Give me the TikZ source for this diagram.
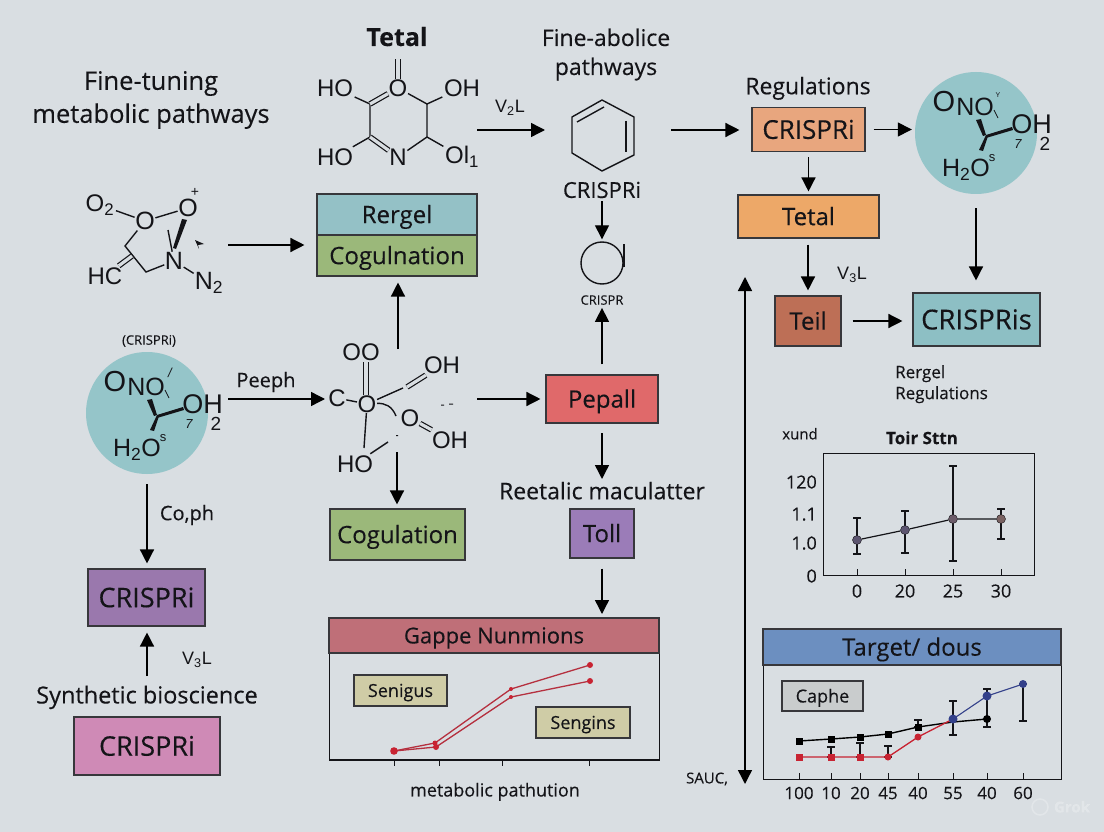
\documentclass[tikz,border=0pt]{standalone}
\usepackage{fontspec}
\setmainfont{Open Sans}[FakeBold=0.25]
\newfontfamily\chemf{Liberation Sans}
\usetikzlibrary{arrows.meta,calc}
\definecolor{bg}{RGB}{217,222,226}
\definecolor{ink}{RGB}{20,20,24}
\definecolor{teal}{RGB}{148,193,198}
\definecolor{leaf}{RGB}{155,184,122}
\definecolor{circ}{RGB}{149,197,201}
\definecolor{rosered}{RGB}{224,105,106}
\definecolor{purp}{RGB}{155,124,184}
\definecolor{purpb}{RGB}{154,120,173}
\definecolor{pink}{RGB}{207,138,182}
\definecolor{peach}{RGB}{232,166,126}
\definecolor{orng}{RGB}{237,168,104}
\definecolor{brick}{RGB}{189,111,86}
\definecolor{tealb}{RGB}{141,191,196}
\definecolor{hdred}{RGB}{191,111,120}
\definecolor{hdblue}{RGB}{108,143,192}
\definecolor{khaki}{RGB}{207,204,166}
\definecolor{greyb}{RGB}{201,204,205}
\definecolor{lred}{RGB}{181,48,63}
\definecolor{sred}{RGB}{200,35,50}
\definecolor{nblue}{RGB}{51,64,138}
\definecolor{dotp}{RGB}{93,85,112}
\tikzset{
  x=1pt,y=-1pt,
  mfs/.style={font=\fontsize{#1pt}{#1pt}\selectfont},
  fs/.style={font=\fontsize{#1pt}{#1pt}\selectfont,text height=0.72*#1pt,text depth=0pt},
  bfs/.style={font=\bfseries\fontsize{#1pt}{#1pt}\selectfont,text height=0.72*#1pt,text depth=0pt},
  txt/.style={text=ink,inner sep=0pt,align=center},
  atom/.style={text=ink,inner sep=1.5pt,font=\chemf\fontsize{#1pt}{#1pt}\selectfont},
  tiny glyph/.style={text=ink,inner sep=0pt,font=\chemf\fontsize{#1pt}{#1pt}\selectfont,text height=0.7*#1pt,text depth=0pt},
  bond/.style={draw=ink,line width=1.4pt},
  dbl/.style={draw=ink,line width=1.2pt,double=bg,double distance=3.2pt},
  arr/.style={draw=black,line width=1.4pt,-{Triangle[length=14pt,width=14pt]}},
  boxn/.style={draw=ink!85,line width=1.1pt,inner sep=0pt,text=ink},
  panel/.style={draw=ink,line width=1pt},
  err/.style={draw=ink,line width=1.2pt},
}
% round molecule: centre x, y, prefix, small top glyph
\newcommand\circmol[4]{%
\begin{scope}[shift={(#1,#2)}]
  \node[circle,fill=circ,minimum size=122pt,inner sep=0pt] (#3disc) at (0,0) {};
  \node[tiny glyph=29] (#3a) at (-32,-32) {O};
  \node[tiny glyph=25] (#3b) at (-1,-26) {NO};
  \node[tiny glyph=27] (#3c) at (55.5,-9) {OH};
  \node[tiny glyph=19] (#3two) at (69,10.5) {2};
  \node[tiny glyph=25] (#3d) at (-10,35) {H\textsubscript{2}O};
  \node[tiny glyph=13] (#3s) at (16,24) {s};
  \node[tiny glyph=13] (#3n) at (42,11) {\itshape 7};
  \node[tiny glyph=13] (#3g) at (22,-40) {#4};
  \coordinate (#3k) at (10,2);
  \fill[ink] (#3k) -- (5,-14) -- (0,-13) -- (7,3) -- cycle;
  \fill[ink] (#3k) -- (36,-6) -- (37,-3) -- (10,5) -- cycle;
  \fill[ink] (#3k) -- (3,17) -- (7,18) -- (12,3) -- cycle;
  \draw[ink,line width=.8pt] (18,-23) -- (22,-15);
\end{scope}}
\begin{document}
\begin{tikzpicture}
\useasboundingbox (0,0) rectangle (1104,832);
\fill[bg] (0,0) rectangle (1104,832);

% titles
\node[txt,mfs=25.5] (title) at (151,100) {Fine-tuning\\[7.5pt]metabolic pathways};
\node[txt,bfs=25] (tetalh) at (397,37) {Tetal};
\node[txt,mfs=23] (fineab) at (606,54.5) {Fine-abolice\\[6pt]pathways};
\node[txt,fs=23] (regh) at (808,86) {Regulations};

% top molecule
\node[atom=24] (mho1) at (335,88) {HO};
\node[atom=24,inner sep=0.5pt] (mo) at (398,88) {O};
\node[atom=24] (moh) at (462,88) {OH};
\node[atom=24] (mho2) at (335,157) {HO};
\node[atom=24,inner sep=0.5pt] (mn) at (398,157) {N};
\node[atom=24] (mol) at (462,157) {Ol\textsubscript{1}};
\coordinate (mc1) at (370,104);
\coordinate (mc2) at (370,137);
\coordinate (mc3) at (427,104);
\coordinate (mc4) at (427,137);
\coordinate (mtop) at (398,59);
\draw[dbl,double distance=4pt] (mo) -- (mtop);
\draw[bond] (mho1) -- (mc1) -- (mc2) -- (mho2);
\draw[dbl] (mc1) -- (mo);
\draw[bond] (mo) -- (mc3) -- (moh);
\draw[bond] (mc3) -- (mc4) -- (mol);
\draw[dbl] (mc2) -- (mn);
\draw[bond] (mn) -- (mc4);

% second molecule
\node[atom=24] (po2) at (100,205) {O\textsubscript{2}};
\node[atom=25,inner sep=0.5pt] (po) at (145,221) {O};
\node[atom=25,inner sep=0.5pt] (pop) at (188,208) {O};
\node[atom=14,inner sep=0pt] (pplus) at (195,192) {+};
\node[atom=25,inner sep=0.5pt] (pn) at (174,261) {N};
\node[atom=25,inner sep=1pt] (pn2) at (209,283) {N\textsubscript{2}};
\node[atom=24] (phc) at (105,276) {HC};
\coordinate (pc1) at (125,246);
\coordinate (pc2) at (146,272);
\coordinate (pm) at (132,256);
\coordinate (pw) at (168,230);
\draw[bond] (po2) -- (po);
\draw[bond] (po) -- (pop);
\draw[bond] (po) -- (pc1) -- (pc2) -- (pn);
\draw[dbl] (pm) -- (phc);
\draw[bond] (pn) -- (pn2);
\draw[bond] (pw) -- (pn);
\fill[ink] (182,219) -- (187,220) -- (176,249) -- (173,248) -- cycle;
\fill[ink] (195,240) -- (204,244) -- (198,245) -- (199,249) -- cycle;

% stack
\node[boxn,fill=teal,fs=24,minimum width=160pt,minimum height=41pt] (rergel) at (397,214.5) {Rergel};
\node[boxn,fill=leaf,fs=24,minimum width=160pt,minimum height=41pt] (cognl) at (397,255.5) {Cogulnation};
\coordinate (s1) at (228,245);
\draw[arr,shorten >=12pt] (s1) -- (cognl.west |- s1);

% circle molecule left
\node[txt,fs=13] (lblcr) at (149,340) {(CRISPRi)};
\circmol{147}{413}{l}{\itshape\rlap{\kern-1pt/}}
\node[txt,fs=20] (peeph) at (266,380) {Peeph};

% central molecule
\node[atom=24,inner sep=0.5pt] (cc) at (337,398) {C};
\node[atom=24,inner sep=0.5pt] (co) at (367,404) {O};
\node[atom=24] (coo) at (361,352) {OO};
\node[atom=24] (coh1) at (442,365) {OH};
\node[atom=24,inner sep=0.5pt] (co2) at (410,418) {O};
\node[atom=24] (coh2) at (450,440) {OH};
\node[atom=24] (cho) at (355,464) {HO};
\coordinate (cj) at (403,388);
\coordinate (cd1) at (366,363);
\coordinate (cd2) at (365,390);
\coordinate (cl) at (373,455);
\coordinate (clx) at (388,442);
\draw[bond] (cc) -- (co);
\draw[dbl] (coo.south -| cd1) -- (co.north -| cd1);
\draw[bond] (co) -- (cj);
\draw[dbl] (407,387) -- (coh1);
\draw[bond] (co) .. controls (385,403) and (392,406) .. (396,416);
\draw[bond] (co) -- (364,448);
\draw[bond] (cho) -- (clx);
\draw[dbl] (co2) -- (coh2);
\fill[ink] (441,404.5) rectangle (444,405.5) (449,403.5) rectangle (453,404.5) (396,435) rectangle (398,436);

% arrows around centre
\coordinate (ctop) at (398,349);
\draw[arr,shorten >=6pt] (ctop) -- (cognl.south -| ctop);
\coordinate (pa) at (228,399);
\coordinate (pb) at (325,399);
\draw[arr] (pa) -- (pb);
\coordinate (cdn) at (397,452);
\node[boxn,fill=leaf,fs=24,minimum width=135pt,minimum height=51pt] (cogbox) at (397.5,534.5) {Cogulation};
\draw[arr,shorten >=4pt] (cdn) -- (cogbox.north -| cdn);
\node[boxn,fill=rosered,fs=24,minimum width=112pt,minimum height=48pt] (pepall) at (602,399) {Pepall};
\coordinate (cr) at (477,399);
\draw[arr,shorten >=5pt] (cr) -- (pepall.west);

% hexagon
\coordinate (h1) at (602,100);
\coordinate (h2) at (634,117);
\coordinate (h3) at (634,155);
\coordinate (h4) at (602,171);
\coordinate (h5) at (572,153);
\coordinate (h6) at (572,117);
\draw[bond,line join=round] (h1) -- (h2) -- (h3) -- (h4) -- (h5) -- (h6) -- cycle;
\draw[bond] (577,122) -- (604,107);
\draw[bond] (626,121) -- (626,152);
\node[txt,fs=22] (hcr) at (602,190) {CRISPRi};
\node[draw=ink,line width=1.4pt,circle,minimum size=42pt,inner sep=0pt] (ring) at (602,263) {};
\draw[bond] (624,244) -- (624,267);
\node[txt,fs=13] (crsp) at (602,300) {CRISPR};
\draw[arr,shorten <=3pt,shorten >=2pt] (hcr) -- (ring);
\draw[arr,shorten <=10pt,shorten >=3pt] (pepall) -- (crsp);

\coordinate (ma) at (477,130);
\coordinate (mb) at (545,130);
\draw[arr] (ma) -- (mb);
\node[atom=18,inner sep=0pt] (v2l) at (510,108) {V\textsubscript{2}L};

% right column
\node[boxn,fill=peach,fs=26,minimum width=113pt,minimum height=44pt] (crb) at (808.5,129.5) {CRISPRi};
\coordinate (ra) at (671,130);
\draw[arr,shorten >=12pt] (ra) -- (crb.west |- ra);
\circmol{976}{133}{r}{\scriptsize Y}
\draw[arr,shorten <=8pt,shorten >=3pt] (crb.east) -- (rdisc.west |- crb.east);
\node[boxn,fill=orng,fs=24,minimum width=141pt,minimum height=43pt] (tetalb) at (808.5,216.5) {Tetal};
\draw[arr,shorten <=5pt,shorten >=3pt] (crb) -- (tetalb);
\node[boxn,fill=brick,fs=24,minimum width=66pt,minimum height=50pt] (teil) at (808,321) {Teil};
\draw[arr,shorten <=6pt,shorten >=5pt] (tetalb.south -| teil) -- (teil);
\node[atom=18,inner sep=0pt] (v3r) at (852,275) {V\textsubscript{3}L};
\node[boxn,fill=tealb,fs=27.5,minimum width=127pt,minimum height=53pt] (crs) at (976.5,319.5) {CRISPRis};
\draw[arr,shorten <=11pt,shorten >=10pt] (teil.east) -- (crs.west |- teil.east);
\draw[arr,shorten <=14pt,shorten >=12pt] (rdisc.south) -- (crs.north -| rdisc.south);
\node[txt,mfs=17,align=left,anchor=north west] (rr) at (895,365) {Rergel\\[4pt]Regulations};

% double-headed axis
\coordinate (dtop) at (745,277);
\coordinate (dbot) at (745,784);
\draw[draw=black,line width=1.4pt,{Triangle[length=14pt,width=14pt]}-{Triangle[length=14pt,width=14pt]}] (dtop) -- (dbot);
\node[txt,fs=15] (sauc) at (707,778) {SAUC,};

% chart 1
\node[txt,fs=15] (xund) at (800,434) {xund};
\node[txt,bfs=17] (toir) at (922,438) {Toir Sttn};
\draw[panel] (823,453) rectangle (1034,575);
\foreach \n/\t/\y in {ya/120/482,yb/1.1/514,yc/1.0/543,yd/0/576}
  \node[txt,fs=18,anchor=east] (\n) at (817,\y) {\t};
\foreach \n/\t/\x in {xa/0/857,xb/20/905,xc/25/953,xd/30/1001}{
  \node[txt,fs=18] (\n) at (\x,591) {\t};
  \draw[panel] (\x,575) -- (\x,569);}
\foreach \x/\a/\b in {857/518/554,905/511/553,953/466/561,1001/509/539}{
  \draw[err] (\x,\a) -- (\x,\b);
  \draw[err] (\x-4,\a) -- (\x+4,\a);
  \draw[err] (\x-4,\b) -- (\x+4,\b);}
\node[circle,draw=ink,fill=dotp,minimum size=9pt,inner sep=0pt] (p1) at (857,540) {};
\node[circle,draw=ink,fill=dotp,minimum size=9pt,inner sep=0pt] (p2) at (905,530) {};
\node[circle,draw=ink,fill=dotp!85!brown,minimum size=9pt,inner sep=0pt] (p3) at (953,519) {};
\node[circle,draw=ink,fill=dotp!70!brown,minimum size=9pt,inner sep=0pt] (p4) at (1001,519) {};
\draw[err] (p1) -- (p2) -- (p3) -- (p4);

% left column
\coordinate (l1) at (147,484);
\node[boxn,fill=purpb,fs=27,minimum width=117pt,minimum height=57pt] (cr1) at (146.5,597.5) {CRISPRi};
\draw[arr,shorten >=5pt] (l1) -- (cr1.north -| l1);
\node[txt,fs=20] (coph) at (187,513) {Co,ph};
\node[atom=18,inner sep=0pt] (v3l) at (197,660) {V\textsubscript{3}L};
\node[txt,fs=23.5] (synth) at (147,695) {Synthetic bioscience};
\node[boxn,fill=pink,fs=27,minimum width=146pt,minimum height=58pt] (cr2) at (147,746) {CRISPRi};
\coordinate (l2) at (147,676);
\draw[arr,shorten >=6pt] (l2) -- (cr1.south -| l2);

% middle lower
\node[txt,fs=23] (reet) at (602,491) {Reetalic maculatter};
\node[boxn,fill=purp,fs=24,minimum width=64pt,minimum height=49pt] (toll) at (602,533.5) {Toll};
\coordinate (tdn) at (602,479);
\coordinate (pd) at (602,433);
\draw[arr] (pd) -- (tdn);
\coordinate (td2) at (602,614);
\draw[arr,shorten <=10pt] (toll.south) -- (td2);

% Gappe panel
\fill[bg] (329,653) rectangle (659,760);
\draw[panel] (329,653) -- (329,760) -- (659,760) -- (659,653);
\draw[line width=1.3pt,ink] (329,760) -- (659,760);
\node[boxn,fill=hdred,fs=22,minimum width=330pt,minimum height=35pt] (gappe) at (494,635.5) {Gappe Nunmions};
\node[boxn,fill=khaki,fs=18,minimum width=93pt,minimum height=31pt] (seni) at (400.5,690.5) {Senigus};
\node[boxn,fill=khaki,fs=18,minimum width=94pt,minimum height=31pt] (seng) at (583,722.5) {Sengins};
\foreach \x in {394,439,502,589} \draw[panel] (\x,760) -- (\x,766);
\node[txt,fs=18] (metp) at (495,790) {metabolic pathution};
\coordinate (g0) at (394,751);
\coordinate (ga) at (435,743);
\coordinate (gb) at (511,689);
\coordinate (gc) at (590,665);
\coordinate (gd) at (436,747);
\coordinate (ge) at (511,697);
\coordinate (gf) at (590,681);
\draw[lred,line width=1.3pt] (g0) -- (ga) -- (gb) -- (gc);
\draw[lred,line width=1.3pt] (g0) -- (gd) -- (ge) -- (gf);
\fill[sred] (g0) circle (3.8pt) (gc) circle (3pt) (gf) circle (3pt) (gb) circle (2pt) (ge) circle (2pt) (ga) circle (2.5pt) (gd) circle (3pt);

% Target panel
\fill[bg] (763,665) rectangle (1061,779);
\draw[panel] (763,665) -- (763,779) -- (1061,779) -- (1061,665);
\node[boxn,fill=hdblue,fs=24,minimum width=298pt,minimum height=36pt] (targ) at (912,647) {Target/ dous};
\node[boxn,fill=greyb,fs=18,minimum width=81pt,minimum height=30pt] (caph) at (822.5,696) {Caphe};
\foreach \n/\t/\x in {ta/100/799,tb/10/831,tc/20/860,td/45/888,te/40/918,tf/55/953,tg/40/987,th/60/1023}{
  \node[txt,fs=17] (\n) at (\x,793) {\t};
  \draw[panel] (\x,779) -- (\x,773);}
\foreach \x/\a/\b in {831/747/757,860/743/757,888/746/757,918/720/727,953/701/735,987/689/727,1023/684/721}{
  \draw[err] (\x,\a) -- (\x,\b);
  \draw[err] (\x-4,\a) -- (\x+4,\a);
  \draw[err] (\x-4,\b) -- (\x+4,\b);}
\draw[black,line width=1.4pt] (799,741) -- (831,739) -- (860,737) -- (888,734) -- (918,727) -- (953,722) -- (987,719);
\foreach \x/\y in {799/741,831/739,860/737,888/734,918/727}
  \fill[black] (\x-3.5,\y-3.5) rectangle (\x+3.5,\y+3.5);
\fill[black] (987,719) circle (4pt);
\draw[sred,line width=1.3pt] (799,757) -- (831,757) -- (860,757) -- (888,757) -- (918,737) -- (953,719);
\foreach \x/\y in {799/757,831/757,860/757}
  \fill[sred] (\x-3.5,\y-3.5) rectangle (\x+3.5,\y+3.5);
\fill[sred] (888,757) circle (3.5pt) (918,737) circle (3.5pt);
\draw[nblue,line width=1.1pt] (953,719) -- (987,696) -- (1023,684);
\fill[nblue] (953,719) circle (4.5pt) (987,696) circle (4.5pt) (1023,684) circle (4pt);

% watermark
\draw[white,opacity=.25,line width=1.5pt] (1040,807) circle (8pt);
\node[text=white,opacity=.25,bfs=15,inner sep=0pt] (grok) at (1072,807) {Grok};
\end{tikzpicture}
\end{document}
